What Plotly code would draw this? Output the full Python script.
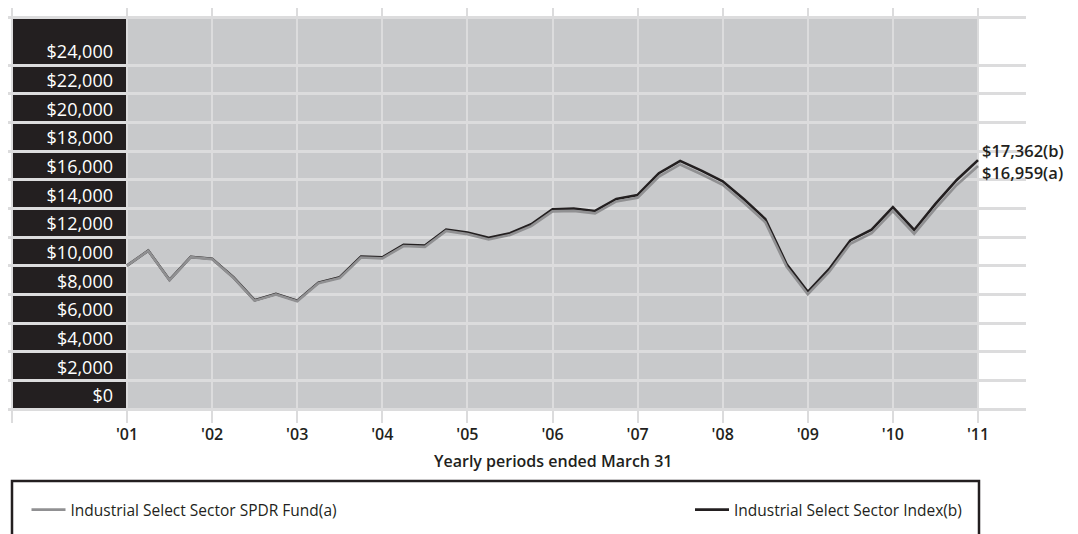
import plotly.graph_objects as go

# ---------------- data ----------------
quarters = list(range(41))  # quarterly points, March 2001 .. March 2011
index_values = [10000, 11050, 9000, 10610, 10490, 9190, 7590, 8030, 7560, 8820,
                9190, 10630, 10580, 11450, 11400, 12520, 12310, 11940, 12260, 12890,
                13940, 13980, 13820, 14660, 14930, 16450, 17310, 16630, 15890, 14630,
                13260, 10120, 8170, 9750, 11760, 12510, 14080, 12490, 14310, 15980,
                17362]
fund_values = [10000, 11040, 8990, 10590, 10460, 9160, 7560, 7990, 7520, 8770,
               9140, 10570, 10510, 11370, 11310, 12420, 12200, 11830, 12140, 12760,
               13790, 13820, 13650, 14480, 14730, 16220, 17060, 16380, 15640, 14390,
               13030, 9930, 8010, 9560, 11530, 12260, 13800, 12230, 14000, 15630,
               16959]
year_ticks = [0, 4, 8, 12, 16, 20, 24, 28, 32, 36, 40]
year_labels = ["'01", "'02", "'03", "'04", "'05", "'06", "'07", "'08", "'09", "'10", "'11"]
value_ticks = [0, 2000, 4000, 6000, 8000, 10000, 12000, 14000, 16000, 18000, 20000, 22000, 24000]
value_labels = ["$0", "$2,000", "$4,000", "$6,000", "$8,000", "$10,000", "$12,000",
                "$14,000", "$16,000", "$18,000", "$20,000", "$22,000", "$24,000"]
fund_name = "Industrial Select Sector SPDR Fund(a)"
index_name = "Industrial Select Sector Index(b)"
fund_end_label = "$16,959(a)"
index_end_label = "$17,362(b)"
x_title = "Yearly periods ended March 31"

# ---------------- geometry / style ----------------
OFF = 8                      # page body margin of the html page
W, H = 1078 - OFF, 534 - OFF
ML, MR, MT, MB = 0, 52, 0, 111
PW, PH = W - ML - MR, H - MT - MB


def px_x(p):
    """screen pixel -> paper x"""
    return (p - OFF - ML) / PW


def px_y(p):
    """screen pixel -> paper y"""
    return (H - MB - (p - OFF)) / PH


X_RANGE = [-5.593, 42.256]
Y_RANGE = [-977, 27978]
Y_TOP = 27349          # top edge of shaded area
X_LABEL_COL = -5.405   # left edge of dark label column

DARK = "#231f20"
PANEL = "#c8c9cb"
GRID = "#dcdcdd"
FUND_COLOR = "#909092"
FONT = "Open Sans"

fig = go.Figure()

fig.add_trace(go.Scatter(
    x=quarters, y=index_values, mode="lines", name=index_name,
    line=dict(color=DARK, width=2.6), legend="legend2", hoverinfo="skip"))
fig.add_trace(go.Scatter(
    x=quarters, y=fund_values, mode="lines", name=fund_name,
    line=dict(color=FUND_COLOR, width=2.6), legend="legend", hoverinfo="skip"))

# shaded plot panel and dark label column (below grid lines)
fig.add_shape(type="rect", xref="x", yref="y", x0=0, x1=40, y0=0, y1=Y_TOP,
              fillcolor=PANEL, line_width=0, layer="below")
fig.add_shape(type="rect", xref="x", yref="y", x0=X_LABEL_COL, x1=0, y0=0, y1=Y_TOP,
              fillcolor=DARK, line_width=0, layer="below")

# legend frame
fig.add_shape(type="rect", xref="paper", yref="paper",
              x0=px_x(12), x1=px_x(979), y0=px_y(481), y1=px_y(590),
              line=dict(color=DARK, width=2.5), fillcolor="rgba(0,0,0,0)")

# end-value labels
fig.add_annotation(x=quarters[-1], y=index_values[-1], text=index_end_label,
                   xanchor="left", yanchor="middle", xshift=2, yshift=10,
                   showarrow=False, font=dict(family=FONT, size=16.5, color=DARK, weight=600))
fig.add_annotation(x=quarters[-1], y=fund_values[-1], text=fund_end_label,
                   xanchor="left", yanchor="middle", xshift=2, yshift=-7,
                   showarrow=False, font=dict(family=FONT, size=16.5, color=DARK, weight=600))

# x-axis title
fig.add_annotation(x=20, xref="x", y=px_y(461), yref="paper",
                   text=x_title, showarrow=False, xanchor="center", yanchor="middle",
                   font=dict(family=FONT, size=16, color=DARK, weight=600))

fig.update_xaxes(
    range=X_RANGE, showgrid=True, gridcolor=GRID, gridwidth=2,
    tickvals=[X_LABEL_COL] + year_ticks, ticktext=[""] + year_labels,
    ticks="", tickfont=dict(family=FONT, size=16, color=DARK, weight=600),
    zeroline=False, showline=False, fixedrange=True)

fig.update_yaxes(
    range=Y_RANGE, showgrid=True, gridcolor=GRID, gridwidth=3,
    tickvals=value_ticks + [Y_TOP], ticktext=value_labels + [""],
    anchor="free", position=px_x(113),
    ticks="", ticklabelshift=-13,
    tickfont=dict(family=FONT, size=18, color="white", weight=500),
    zeroline=False, showline=False, fixedrange=True)

legend_common = dict(orientation="h", yanchor="middle", y=px_y(510), xanchor="left",
                     bgcolor="rgba(0,0,0,0)", borderwidth=0, itemwidth=34,
                     font=dict(family=FONT, size=15.5, color=DARK))

fig.update_layout(
    width=W, height=H,
    margin=dict(l=ML, r=MR, t=MT, b=MB, autoexpand=False),
    paper_bgcolor="white", plot_bgcolor="white",
    showlegend=True,
    legend=dict(x=px_x(26.5), **legend_common),
    legend2=dict(x=px_x(690), **legend_common),
    font=dict(family=FONT, color=DARK),
)

fig.write_html("out.html")
